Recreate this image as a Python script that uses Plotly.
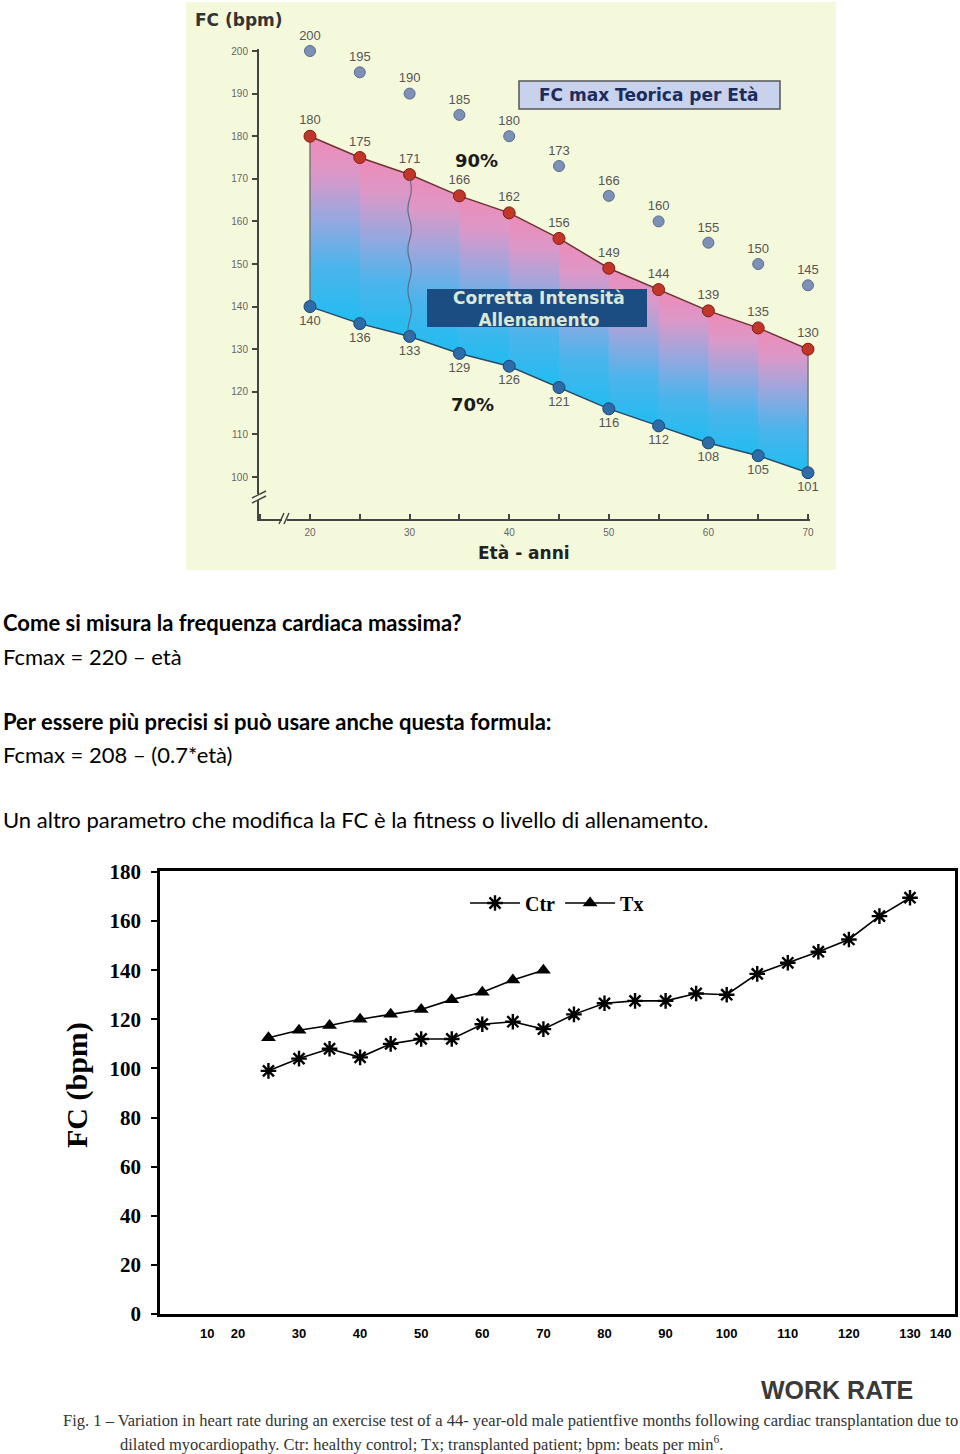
import plotly.graph_objects as go

# ---------------- top chart data ----------------
ages = [20, 25, 30, 35, 40, 45, 50, 55, 60, 65, 70]
fc_max_teorica = [200, 195, 190, 185, 180, 173, 166, 160, 155, 150, 145]
fc_90 = [180, 175, 171, 166, 162, 156, 149, 144, 139, 135, 130]
fc_70 = [140, 136, 133, 129, 126, 121, 116, 112, 108, 105, 101]

# ---------------- bottom chart data ----------------
work_rate_ctr = [25, 30, 35, 40, 45, 50, 55, 60, 65, 70, 75, 80, 85, 90, 95,
                 100, 105, 110, 115, 120, 125, 130]
fc_ctr = [99, 104, 108, 104.5, 110, 112, 112, 118, 119, 116, 122, 126.5,
          127.5, 127.5, 130.5, 130, 138.5, 143, 147.5, 152.5, 162, 169.5]
work_rate_tx = [25, 30, 35, 40, 45, 50, 55, 60, 65, 70]
fc_tx = [112.5, 115.5, 117.5, 120, 122, 124, 128, 131, 136, 140]
wr_tick_pos = [15, 20, 30, 40, 50, 60, 70, 80, 90, 100, 110, 120, 130, 135]
wr_tick_text = ["10", "20", "30", "40", "50", "60", "70", "80", "90", "100",
                "110", "120", "130", "140"]

W, H = 960, 1454


def px(x):
    return x / W


def py(y):
    return 1 - y / H


BG_TOP = "#f5f9dc"
GRAD = [[0.0, "#1fbdf0"], [0.3, "#4bb4ec"], [0.55, "#94a8e0"],
        [0.8, "#dc98c8"], [1.0, "#ef8ab6"]]

fig = go.Figure()

# ---- underlay: whole band with a single vertical gradient (hides seams) ----
fig.add_trace(go.Scatter(
    x=ages + ages[::-1] + [ages[0]],
    y=fc_70 + fc_90[::-1] + [fc_70[0]],
    mode="lines", fill="toself", line=dict(width=0),
    fillgradient=dict(type="vertical", colorscale=GRAD),
    hoverinfo="skip", showlegend=False, xaxis="x", yaxis="y"))

# ---- gradient band between 70% and 90% (one polygon per age interval) ----
for _ in range(2):
    for i in range(len(ages) - 1):
        fig.add_trace(go.Scatter(
            x=[ages[i], ages[i + 1], ages[i + 1], ages[i], ages[i]],
            y=[fc_70[i], fc_70[i + 1], fc_90[i + 1], fc_90[i], fc_70[i]],
            mode="lines", fill="toself", line=dict(width=0),
            fillgradient=dict(type="vertical", colorscale=GRAD),
            hoverinfo="skip", showlegend=False, xaxis="x", yaxis="y"))

# edges of the band
for j in (0, len(ages) - 1):
    fig.add_trace(go.Scatter(
        x=[ages[j], ages[j]], y=[fc_70[j], fc_90[j]], mode="lines",
        line=dict(color="#777777", width=1.5), hoverinfo="skip",
        showlegend=False, xaxis="x", yaxis="y"))

lab_font = dict(family="Liberation Sans, Arial", size=13, color="#555555")

fig.add_trace(go.Scatter(
    x=ages, y=fc_max_teorica, mode="markers+text",
    text=[str(v) for v in fc_max_teorica], textposition="top center",
    textfont=lab_font,
    marker=dict(size=11, color="#7d90b6", line=dict(color="#5a6b8e", width=1)),
    cliponaxis=False, showlegend=False, xaxis="x", yaxis="y"))

fig.add_trace(go.Scatter(
    x=ages, y=fc_90, mode="lines+markers+text",
    text=[str(v) for v in fc_90], textposition="top center",
    textfont=lab_font,
    line=dict(color="#6e3434", width=1.5),
    marker=dict(size=12, color="#c2362a", line=dict(color="#7c1e17", width=1)),
    cliponaxis=False, showlegend=False, xaxis="x", yaxis="y"))

fig.add_trace(go.Scatter(
    x=ages, y=fc_70, mode="lines+markers+text",
    text=[str(v) for v in fc_70], textposition="bottom center",
    textfont=lab_font,
    line=dict(color="#2c4a6a", width=1.5),
    marker=dict(size=12, color="#2d6ca6", line=dict(color="#1b4673", width=1)),
    cliponaxis=False, showlegend=False, xaxis="x", yaxis="y"))

# ---- bottom chart ----
fig.add_trace(go.Scatter(
    x=work_rate_ctr, y=fc_ctr, name="Ctr", mode="lines+markers",
    line=dict(color="black", width=1.6),
    marker=dict(symbol="asterisk-open", size=13, color="black",
                line=dict(color="black", width=2.4)),
    xaxis="x2", yaxis="y2", cliponaxis=False))

fig.add_trace(go.Scatter(
    x=work_rate_tx, y=fc_tx, name="Tx", mode="lines+markers",
    line=dict(color="black", width=1.6),
    marker=dict(symbol="triangle-up", size=13, color="black"),
    xaxis="x2", yaxis="y2", cliponaxis=False))


# ---- axes ----
def top_age(xp):
    return 20 + (xp - 310) / 9.96


def top_fc(yp):
    return 100 + (477 - yp) / 4.26


top_x0, top_x1 = 259, 810
top_y0, top_y1 = 519, 49


def bot_wr(xp):
    return 30 + (xp - 299) / 6.11


def bot_fc(yp):
    return (1314 - yp) / 2.456


bot_x0, bot_x1 = 160, 955
bot_y0, bot_y1 = 1314, 871

small_tick_font = dict(family="Liberation Sans, Arial", size=10, color="#666666")

fig.update_layout(
    width=W, height=H, margin=dict(l=0, r=0, t=0, b=0, pad=0, autoexpand=False),
    paper_bgcolor="white", plot_bgcolor="rgba(0,0,0,0)",
    xaxis=dict(domain=[px(top_x0), px(top_x1)],
               range=[top_age(top_x0), top_age(top_x1)], automargin=False,
               showline=True, linecolor="#444444", linewidth=2,
               ticks="inside", ticklen=5, tickwidth=1.5, tickcolor="#444444",
               tickmode="linear", tick0=20, dtick=10,
               minor=dict(ticks="inside", ticklen=5, tickwidth=1.5,
                          tickcolor="#444444", dtick=5, tick0=20),
               tickfont=small_tick_font, ticklabelstandoff=3,
               showgrid=False, zeroline=False, anchor="y"),
    yaxis=dict(domain=[py(top_y0), py(top_y1)],
               range=[top_fc(top_y0), top_fc(top_y1)], automargin=False,
               showline=True, linecolor="#444444", linewidth=2,
               ticks="outside", ticklen=5, tickwidth=1.5, tickcolor="#444444",
               tickmode="linear", tick0=100, dtick=10,
               tickfont=small_tick_font, ticklabelstandoff=2,
               showgrid=False, zeroline=False, anchor="x"),
    xaxis2=dict(domain=[px(bot_x0), px(bot_x1)],
                range=[bot_wr(bot_x0), bot_wr(bot_x1)], automargin=False,
                showline=True, linecolor="black", linewidth=2.5, mirror=True,
                ticks="", tickmode="array", tickvals=wr_tick_pos,
                ticktext=wr_tick_text,
                tickfont=dict(family="Liberation Sans, Arial", size=13,
                              color="black", weight="bold"),
                ticklabelstandoff=6,
                showgrid=False, zeroline=False, anchor="y2"),
    yaxis2=dict(domain=[py(bot_y0), py(bot_y1)],
                range=[bot_fc(bot_y0), bot_fc(bot_y1)], automargin=False,
                showline=True, linecolor="black", linewidth=2.5, mirror=True,
                ticks="outside", ticklen=6, tickwidth=2, tickcolor="black",
                tickmode="linear", tick0=0, dtick=20,
                tickfont=dict(family="Liberation Serif, Times New Roman", size=21,
                              color="black", weight="bold"),
                ticklabelstandoff=6,
                showgrid=False, zeroline=False, anchor="x2"),
    legend=dict(orientation="h", x=px(465), y=py(903), xanchor="left",
                yanchor="middle", bgcolor="rgba(0,0,0,0)",
                font=dict(family="Liberation Serif, Times New Roman", size=20,
                          color="black", weight="bold"),
                itemwidth=50, tracegroupgap=0),
)

shapes = []
# pale yellow background of the top picture
shapes.append(dict(type="rect", xref="paper", yref="paper", layer="below",
                   x0=px(186), x1=px(836), y0=py(570), y1=py(2),
                   fillcolor=BG_TOP, line=dict(width=0)))
# "FC max Teorica per Età" box
shapes.append(dict(type="rect", xref="paper", yref="paper",
                   x0=px(519), x1=px(780), y0=py(109), y1=py(81),
                   fillcolor="#c8d2ec", line=dict(color="#555555", width=1.5)))
# "Corretta Intensità Allenamento" box
shapes.append(dict(type="rect", xref="paper", yref="paper",
                   x0=px(427), x1=px(647), y0=py(327), y1=py(289),
                   fillcolor="#1b4c82", line=dict(width=0)))

# wavy separator line at age 30 (decorative)
xa, y_top, y_bot = ages[2], fc_90[2], fc_70[2]
n_w = 8
step = (y_top - y_bot) / n_w
path = f"M {xa},{y_top - 1}"
for k in range(n_w):
    ym = y_top - 1 - (k + 0.5) * step
    ye = y_top - 1 - (k + 1) * step
    dx = 0.35 if k % 2 == 0 else -0.35
    path += f" Q {xa + dx},{ym} {xa},{ye}"
shapes.append(dict(type="path", xref="x", yref="y", path=path,
                   line=dict(color="#5a6a80", width=1.1)))

# axis break marks (top picture)
shapes.append(dict(type="rect", xref="paper", yref="paper",
                   x0=px(255), x1=px(263), y0=py(500), y1=py(494),
                   fillcolor=BG_TOP, line=dict(width=0)))
shapes.append(dict(type="line", xref="paper", yref="paper",
                   x0=px(252), y0=py(498), x1=px(266), y1=py(491),
                   line=dict(color="#444444", width=1.5)))
shapes.append(dict(type="line", xref="paper", yref="paper",
                   x0=px(252), y0=py(503), x1=px(266), y1=py(496),
                   line=dict(color="#444444", width=1.5)))
shapes.append(dict(type="rect", xref="paper", yref="paper",
                   x0=px(282), x1=px(287), y0=py(522), y1=py(516),
                   fillcolor=BG_TOP, line=dict(width=0)))
shapes.append(dict(type="line", xref="paper", yref="paper",
                   x0=px(279), y0=py(524), x1=px(284), y1=py(513),
                   line=dict(color="#444444", width=1.5)))
shapes.append(dict(type="line", xref="paper", yref="paper",
                   x0=px(284), y0=py(524), x1=px(289), y1=py(513),
                   line=dict(color="#444444", width=1.5)))
fig.update_layout(shapes=shapes)

ann = []


def add_text(text, x, y, size, color="#222222", family="Liberation Sans, Arial",
             bold=False, xanchor="center", angle=0):
    ann.append(dict(text=text, x=px(x), y=py(y), xref="paper", yref="paper",
                    xanchor=xanchor, yanchor="middle", showarrow=False,
                    textangle=angle,
                    font=dict(family=family, size=size, color=color,
                              weight="bold" if bold else "normal")))


# top picture texts
dv = "DejaVu Sans, Verdana"
add_text("FC (bpm)", 239, 20, 17, "#333333", family=dv, bold=True)
add_text("Età - anni", 524, 553, 17, "#222222", family=dv, bold=True)
add_text("90%", 476, 161, 18, "#1a1a1a", family=dv, bold=True)
add_text("70%", 472, 404, 18, "#1a1a1a", family=dv, bold=True)
add_text("FC max Teorica per Età", 649, 95, 17, "#1c2c5c", family=dv, bold=True)
add_text("Corretta Intensità<br>Allenamento", 539, 309, 17, "#dce8d6",
         family=dv, bold=True)

# body text
body = "Lato, Carlito, Calibri, sans-serif"
add_text("Come si misura la frequenza cardiaca massima?", 1, 622, 22, "black",
         family=body, bold=True, xanchor="left")
add_text("Fcmax = 220 – età", 1, 656, 22, "black", family=body, xanchor="left")
add_text("Per essere più precisi si può usare anche questa formula:", 1, 721, 22,
         "black", family=body, bold=True, xanchor="left")
add_text("Fcmax = 208 – (0.7*età)", 1, 754, 22, "black", family=body,
         xanchor="left")
add_text("Un altro parametro che modifica la FC è la fitness o livello di allenamento.",
         1, 819, 22, "black", family=body, xanchor="left")

# bottom chart texts
serif = "Liberation Serif, Times New Roman"
add_text("FC (bpm)", 77, 1085, 30, "black", family=serif, bold=True, angle=-90)
add_text("WORK RATE", 837, 1390, 25, "#3a3a3a", bold=True)
add_text("Fig. 1 – Variation in heart rate during an exercise test of a 44- year-old "
         "male patientfive months following cardiac transplantation due to",
         61, 1420, 16.5, "#333333", family=serif, xanchor="left")
add_text("dilated myocardiopathy. Ctr: healthy control; Tx; transplanted patient; "
         "bpm: beats per min<sup>6</sup>.",
         118, 1443, 16.5, "#333333", family=serif, xanchor="left")

fig.update_layout(annotations=ann)

fig.write_html("out.html")
